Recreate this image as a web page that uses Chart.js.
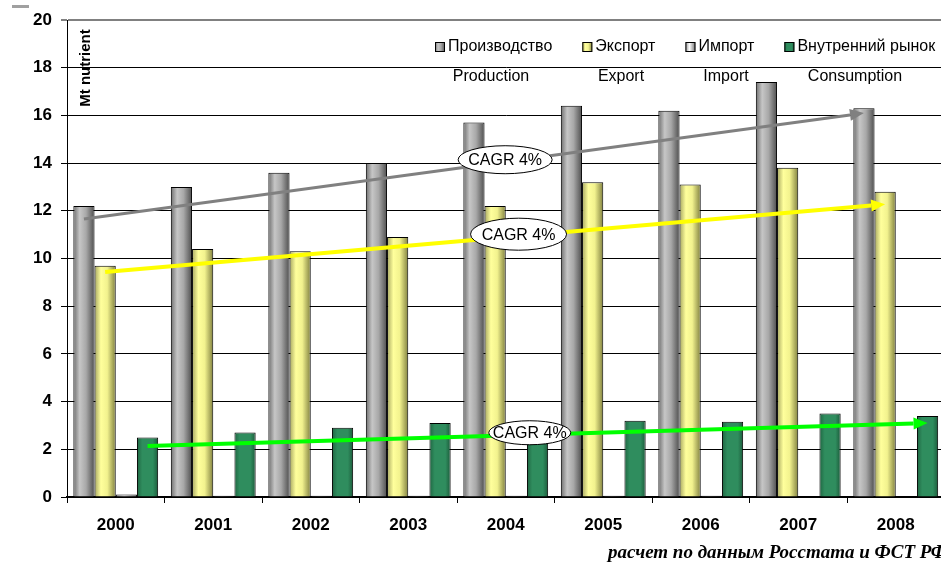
<!DOCTYPE html>
<html>
<head>
<meta charset="utf-8">
<script src="https://cdn.jsdelivr.net/npm/chart.js@4.4.1/dist/chart.umd.min.js"></script>
<style>
  html, body { margin:0; padding:0; background:#fff; overflow:hidden; }
  #wrap { position:relative; width:950px; height:565px; }
</style>
</head>
<body>
<div id="wrap"><canvas id="c" width="950" height="565"></canvas></div>
<script>
// ---- data ----
const years = ['2000','2001','2002','2003','2004','2005','2006','2007','2008'];
const production = [12.2, 13.0, 13.6, 14.0, 15.7, 16.4, 16.2, 17.4, 16.3];
const exportVals = [9.7, 10.4, 10.3, 10.9, 12.2, 13.2, 13.1, 13.8, 12.8];
const importVals = [0.1, 0.05, 0.05, 0.05, 0.05, 0.05, 0.05, 0.02, 0.02];
const domestic   = [2.5, 2.7, 2.9, 3.1, 2.95, 3.2, 3.15, 3.5, 3.4];
const seriesRu = ['Производство', 'Экспорт', 'Импорт', 'Внутренний рынок'];
const seriesEn = ['Production', 'Export', 'Import', 'Consumption'];
const yTicks = [0, 2, 4, 6, 8, 10, 12, 14, 16, 18, 20];
// trend arrows (start value at 2000, end value at 2008)
const trendSeries = [0, 1, 3];
const trendStart  = [11.66, 9.43, 2.14];
const trendEnd    = [16.1, 12.27, 3.1];
const trendLabel  = ['CAGR 4%', 'CAGR 4%', 'CAGR 4%'];
const trendLabelAt = [0.54, 0.53, 0.49];

const FONT = "Arial, 'Liberation Sans', sans-serif";

const gradStops = [
  [[0,'#6e6e6e'],[0.3,'#c6c6c6'],[0.6,'#a8a8a8'],[1,'#4e4e4e']],
  [[0,'#a6a660'],[0.3,'#ffff9c'],[0.6,'#f2f28e'],[1,'#80803f']],
  [[0,'#909090'],[0.4,'#ffffff'],[1,'#707070']],
  [[0,'#1f6642'],[0.25,'#2f8d5e'],[0.75,'#2f8d5e'],[1,'#1c5a3b']]
];
const legendColors = ['#9a9a9a','#ffff99','#e8e8e8','#2f8d5e'];
const trendColors = ['#808080','#ffff00','#00ff00'];
const trendWidths = [3, 4, 4];
const ellipseSize = [[47,14],[48,16],[41,12]];

const gradPlugin = {
  id: 'grad',
  beforeDatasetsDraw(chart) {
    const ctx = chart.ctx;
    chart.data.datasets.forEach((ds, di) => {
      const meta = chart.getDatasetMeta(di);
      meta.data.forEach(el => {
        const half = el.width / 2;
        const g = ctx.createLinearGradient(el.x - half, 0, el.x + half, 0);
        gradStops[di].forEach(s => g.addColorStop(s[0], s[1]));
        el.options = Object.assign({}, el.options, { backgroundColor: g });
      });
    });
  }
};

const overlayPlugin = {
  id: 'overlay',
  afterDatasetsDraw(chart) {
    const ctx = chart.ctx;
    const y = chart.scales.y;
    ctx.save();
    trendSeries.forEach((si, k) => {
      const meta = chart.getDatasetMeta(si);
      const x0 = meta.data[0].x, x1 = meta.data[meta.data.length - 1].x;
      const y0 = y.getPixelForValue(trendStart[k]), y1 = y.getPixelForValue(trendEnd[k]);
      const ang = Math.atan2(y1 - y0, x1 - x0);
      const hl = 14, hw = 6;
      const bx = x1 - hl * Math.cos(ang), by = y1 - hl * Math.sin(ang);
      ctx.strokeStyle = trendColors[k];
      ctx.fillStyle = trendColors[k];
      ctx.lineWidth = trendWidths[k];
      ctx.beginPath(); ctx.moveTo(x0, y0); ctx.lineTo(bx, by); ctx.stroke();
      ctx.beginPath();
      ctx.moveTo(x1, y1);
      ctx.lineTo(bx + hw * Math.sin(ang), by - hw * Math.cos(ang));
      ctx.lineTo(bx - hw * Math.sin(ang), by + hw * Math.cos(ang));
      ctx.closePath(); ctx.fill();
      // label
      const t = trendLabelAt[k];
      const lx = x0 + (x1 - x0) * t, ly = y0 + (y1 - y0) * t - 2;
      ctx.beginPath();
      ctx.ellipse(lx, ly, ellipseSize[k][0], ellipseSize[k][1], 0, 0, Math.PI * 2);
      ctx.fillStyle = '#fff'; ctx.fill();
      ctx.lineWidth = 1; ctx.strokeStyle = '#000'; ctx.stroke();
      ctx.fillStyle = '#000';
      ctx.font = '16px ' + FONT;
      ctx.textAlign = 'center'; ctx.textBaseline = 'middle';
      ctx.fillText(trendLabel[k], lx, ly + 1);
    });
    ctx.restore();
  },
  afterDraw(chart) {
    const ctx = chart.ctx;
    ctx.save();
    // legend
    ctx.font = '16px ' + FONT;
    ctx.textBaseline = 'middle';
    ctx.textAlign = 'left';
    let x = 435;
    const ly = 47;
    const enX = [491, 621, 726, 855];
    seriesRu.forEach((lab, i) => {
      const g = ctx.createLinearGradient(x, 0, x + 10, 0);
      gradStops[i].forEach(s => g.addColorStop(s[0], s[1]));
      ctx.fillStyle = g;
      ctx.fillRect(x, ly - 5, 10, 10);
      ctx.strokeStyle = '#000'; ctx.lineWidth = 1;
      ctx.strokeRect(x + 0.5, ly - 4.5, 9, 9);
      ctx.fillStyle = '#000';
      ctx.fillText(lab, x + 13, ly);
      x += 13 + ctx.measureText(lab).width + 30;
    });
    ctx.textAlign = 'center';
    seriesEn.forEach((lab, i) => ctx.fillText(lab, enX[i], 77));
    // y title
    ctx.save();
    ctx.translate(86, 68);
    ctx.rotate(-Math.PI / 2);
    ctx.font = 'bold 15px ' + FONT;
    ctx.textAlign = 'center';
    ctx.textBaseline = 'middle';
    ctx.fillText('Mt nutrient', 0, 0);
    ctx.restore();
    // source
    ctx.font = "italic bold 19px 'Times New Roman', 'Liberation Serif', serif";
    ctx.textAlign = 'left';
    ctx.textBaseline = 'alphabetic';
    ctx.fillText('расчет по данным Росстата и ФСТ РФ', 608, 558);
    // top-left gray mark
    ctx.fillStyle = '#a0a0a0';
    ctx.fillRect(12, 5, 17, 3);
    ctx.restore();
  }
};

new Chart(document.getElementById('c'), {
  type: 'bar',
  data: {
    labels: years,
    datasets: [
      { label: seriesRu[0], data: production },
      { label: seriesRu[1], data: exportVals },
      { label: seriesRu[2], data: importVals },
      { label: seriesRu[3], data: domestic }
    ].map((d, i) => Object.assign(d, {
      backgroundColor: legendColors[i],
      borderColor: '#000',
      borderWidth: 1,
      barPercentage: 1.0,
      categoryPercentage: 0.87
    }))
  },
  options: {
    responsive: false,
    animation: false,
    devicePixelRatio: 1,
    layout: { padding: { left: 0, right: 5.5, top: 20, bottom: 0 } },
    plugins: { legend: { display: false }, tooltip: { enabled: false }, title: { display: false } },
    scales: {
      x: {
        grid: { drawOnChartArea: false, drawTicks: true, tickLength: 6, color: '#000', offset: true },
        border: { display: true, color: '#000', width: 2 },
        ticks: { color: '#000', font: { family: FONT, size: 17, weight: 'bold' }, padding: 12, maxRotation: 0 },
        afterFit(s) { s.height = 68; }
      },
      y: {
        min: 0, max: 20,
        afterBuildTicks(s) { s.ticks = yTicks.map(v => ({ value: v })); },
        grid: {
          color: c => (c.tick && c.tick.value === 20) ? '#808080' : '#000',
          lineWidth: c => (c.tick && c.tick.value === 20) ? 2 : 1,
          tickLength: 6
        },
        border: { display: true, color: '#000', width: 1 },
        ticks: { color: '#000', font: { family: FONT, size: 17, weight: 'bold' }, padding: 9 },
        afterFit(s) { s.width = 67; }
      }
    }
  },
  plugins: [gradPlugin, overlayPlugin]
});
</script>
</body>
</html>
